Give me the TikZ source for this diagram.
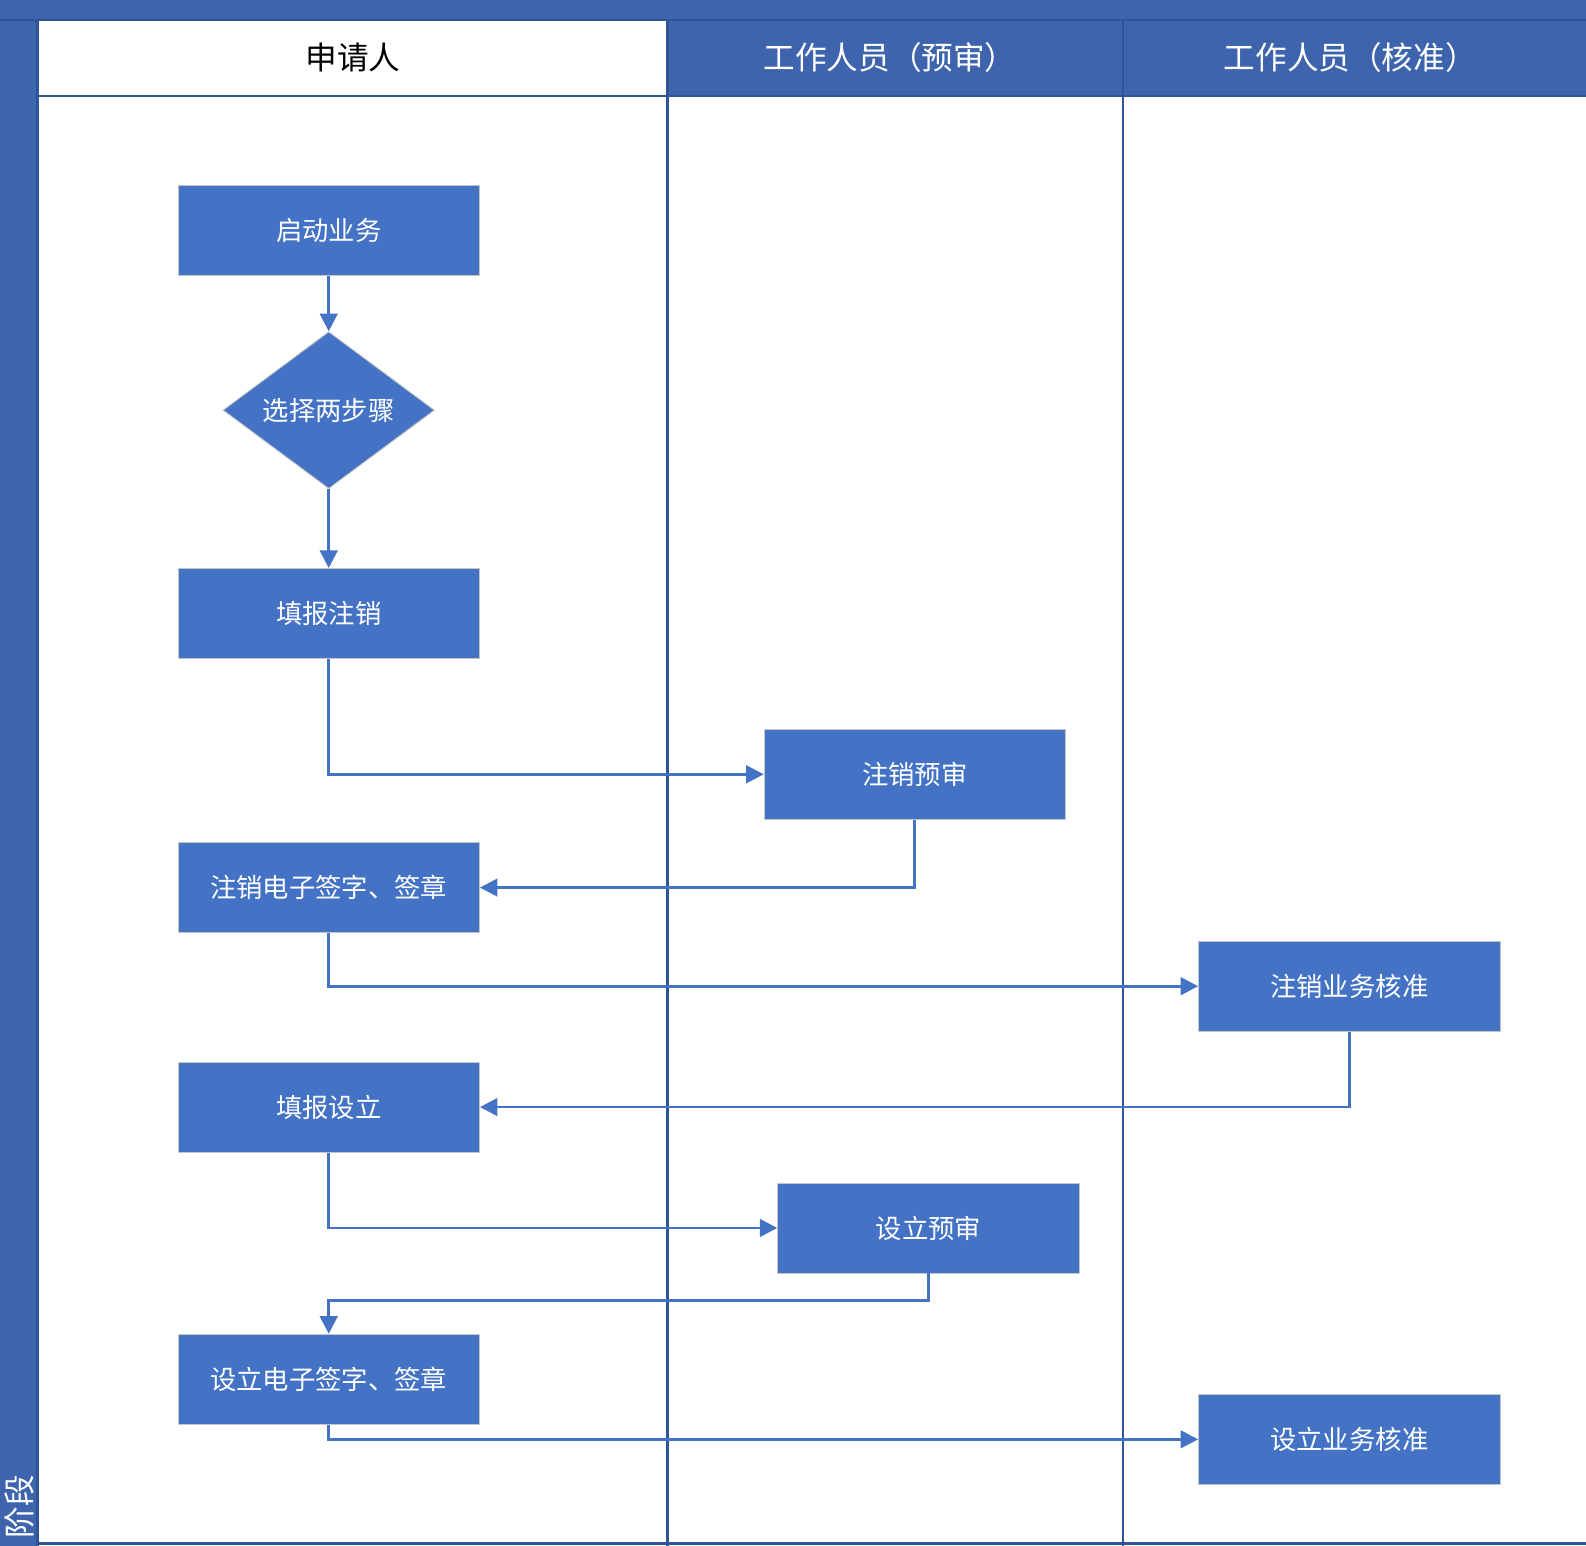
\documentclass[tikz,border=0pt]{standalone}
\usepackage{fontspec}
\setmainfont{Noto Sans CJK SC}
\usetikzlibrary{shapes.geometric,arrows.meta}
\definecolor{laneblue}{HTML}{3E64AD}
\definecolor{lineblue}{HTML}{2F5597}
\definecolor{boxblue}{HTML}{4472C4}

\begin{document}
\begin{tikzpicture}[x=0.02023cm, y=-0.02023cm,
    stepbox/.style={rectangle, fill=boxblue, draw=gray!45, line width=0.5pt,
        minimum width=6.03cm, minimum height=1.80cm, inner sep=0pt,
        text=white, font=\fontsize{15}{18}\selectfont},
    choice/.style={diamond, fill=boxblue, draw=gray!45, line width=0.5pt,
        minimum width=4.23cm, minimum height=3.14cm, inner sep=0pt,
        text=white, font=\fontsize{15}{18}\selectfont},
    flow/.style={draw=boxblue, line width=1.6pt, -{Triangle[length=10pt,width=10pt]}},
    lanehead/.style={font=\fontsize{18}{21}\selectfont}]
    % Page size, in pixels of the reference
    \def\pagew{1568}
    \def\pageh{1528}
    \useasboundingbox (0,0) rectangle (\pagew,\pageh);

    % Swimlane frame
    \fill[laneblue] (0,0) rectangle (\pagew,20);
    \fill[laneblue] (0,0) rectangle (37,\pageh);
    \fill[laneblue] (660,20) rectangle (\pagew,95);
    \draw[lineblue, line width=1.3pt] (37,95) -- (\pagew,95);
    \draw[lineblue, line width=1.3pt] (0,20) -- (\pagew,20);
    \draw[lineblue, line width=1.3pt] (37,20) -- (37,\pageh);
    \draw[lineblue, line width=1.3pt] (660,20) -- (660,\pageh); % applicant | pre-check
    \draw[lineblue, line width=1.3pt] (1110,20) -- (1110,\pageh); % pre-check | approval
    \draw[lineblue, line width=1.3pt] (37,\pageh-2) -- (\pagew,\pageh-2);

    % Lane titles
    \node[lanehead] (applicant) at (349,57) {申请人};
    \node[lanehead, text=white] (precheck) at (880,57) {工作人员（预审）};
    \node[lanehead, text=white] (approve) at (1335,57) {工作人员（核准）};
    \node[lanehead, text=white, rotate=90, anchor=west, inner sep=0pt] (stage) at (19,1521) {阶段};

    % Steps
    \node[stepbox] (start) at (325,227.5) {启动业务};
    \node[choice] (pick) at (325,405.5) {选择两步骤};
    \node[stepbox] (fillcancel) at (325,606.5) {填报注销};
    \node[stepbox] (cancelcheck) at (904.5,765.5) {注销预审};
    \node[stepbox] (cancelsign) at (325,877.5) {注销电子签字、签章};
    \node[stepbox] (cancelok) at (1334,975) {注销业务核准};
    \node[stepbox] (fillsetup) at (325,1094.5) {填报设立};
    \node[stepbox] (setupcheck) at (918,1214) {设立预审};
    \node[stepbox] (setupsign) at (325,1363.5) {设立电子签字、签章};
    \node[stepbox] (setupok) at (1334,1423) {设立业务核准};

    % Connectors
    \draw[flow] (start) -- (pick);
    \draw[flow] (pick) -- (fillcancel);
    \draw[flow] (fillcancel.south) |- (cancelcheck.west);
    \draw[flow] (cancelcheck.south) |- (cancelsign.east);
    \draw[flow] (cancelsign.south) |- (cancelok.west);
    \draw[flow] (cancelok.south) |- (fillsetup.east);
    \draw[flow] (fillsetup.south) |- (setupcheck.west);
    \draw[flow] (setupcheck.south) -- ++(0,27) -| (setupsign.north);
    \draw[flow] (setupsign.south) |- (setupok.west);
\end{tikzpicture}
\end{document}
